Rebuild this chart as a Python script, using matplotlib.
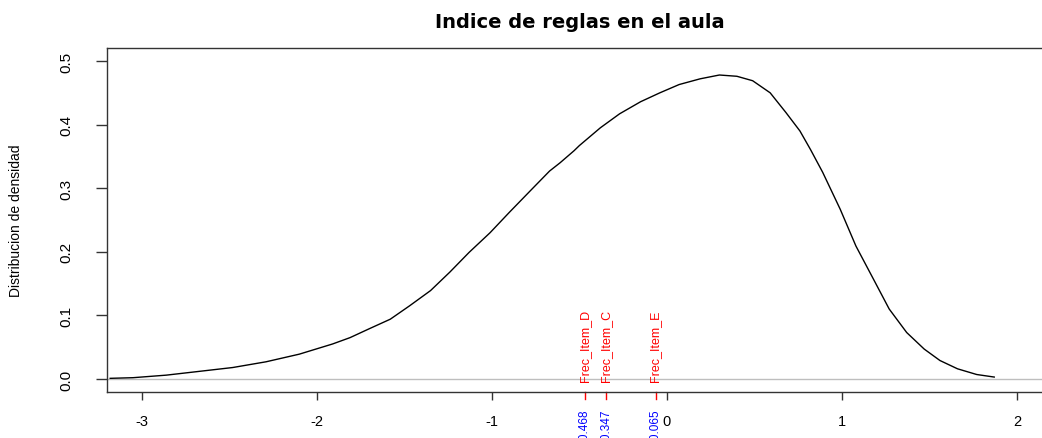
import matplotlib
matplotlib.use('Agg')
import matplotlib.pyplot as plt
from matplotlib import font_manager

# density curve
dens_x = [-3.18, -3.05, -2.86, -2.67, -2.48, -2.29, -2.10, -1.91, -1.81, -1.70,
          -1.58, -1.47, -1.35, -1.24, -1.13, -1.01, -0.90, -0.78, -0.67, -0.61,
          -0.53, -0.50, -0.38, -0.27, -0.15, -0.04, 0.07, 0.19, 0.30, 0.40,
          0.49, 0.59, 0.68, 0.76, 0.82, 0.89, 0.99, 1.08, 1.18, 1.27,
          1.37, 1.47, 1.56, 1.66, 1.77, 1.87]
dens_y = [0.001, 0.002, 0.006, 0.012, 0.018, 0.027, 0.039, 0.055, 0.065, 0.079,
          0.094, 0.115, 0.139, 0.168, 0.199, 0.230, 0.262, 0.296, 0.327, 0.340,
          0.359, 0.367, 0.395, 0.417, 0.436, 0.450, 0.463, 0.472, 0.478, 0.476,
          0.469, 0.450, 0.419, 0.390, 0.361, 0.325, 0.267, 0.209, 0.157, 0.110,
          0.073, 0.047, 0.029, 0.016, 0.007, 0.003]

items = ['Frec_Item_D', 'Frec_Item_C', 'Frec_Item_E']
item_vals = [-0.468, -0.347, -0.065]
item_labels = ['-0.468', '-0.347', '-0.065']

x_ticks = [-3, -2, -1, 0, 1, 2]
y_ticks = [0.0, 0.1, 0.2, 0.3, 0.4, 0.5]

installed = {f.name for f in font_manager.fontManager.ttflist}
narrow = 'Liberation Sans Narrow' if 'Liberation Sans Narrow' in installed else 'Liberation Sans'
regular = 'Liberation Sans'

fig = plt.figure(figsize=(10.42, 4.39), dpi=100)
ax = fig.add_axes([0.1024, 0.1055, 0.9072, 0.7822])

ax.axhline(0, color='#bebebe', lw=1)
ax.plot(dens_x, dens_y, color='black', lw=1)

ax.set_xlim(-3.2, 2.2)
ax.set_ylim(-0.02, 0.52)

ax.set_xticks(x_ticks)
ax.set_xticklabels([str(t) for t in x_ticks], family=regular, fontsize=10.5)
ax.set_yticks(y_ticks)
ax.set_yticklabels([f'{t:.1f}' for t in y_ticks], family=narrow, fontsize=11,
                   rotation=90, va='center')
ax.tick_params(axis='x', length=6, width=1, pad=10, color='#333333')
ax.tick_params(axis='y', length=8, width=1, pad=16, color='#333333')
for s in ax.spines.values():
    s.set_color('#333333')
    s.set_linewidth(1)

ax.set_ylabel('Distribucion de densidad', family=narrow, fontsize=10, labelpad=26)
ax.set_title('Indice de reglas en el aula', family='DejaVu Sans', fontweight='bold',
             fontsize=14, pad=15)

# item markers: red ticks under the axis, names above zero, values below
xt = ax.get_xaxis_transform()
for name, v, lab in zip(items, item_vals, item_labels):
    ax.plot([v, v], [0, -0.02], color='red', lw=1, transform=xt, clip_on=False)
    ax.text(v, -0.003, name, color='red', rotation=90, ha='center', va='bottom',
            family=narrow, fontsize=9)
    ax.text(v, -0.05, lab, color='blue', rotation=90, ha='center', va='top',
            family=narrow, fontsize=8.5, transform=xt)

fig.savefig('out.png', dpi=100)
